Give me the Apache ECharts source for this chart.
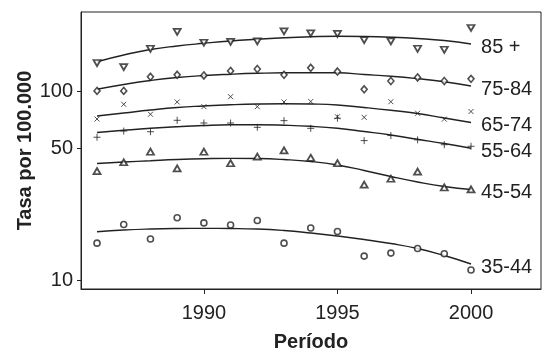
<!DOCTYPE html>
<html>
<head>
<meta charset="utf-8">
<script src="https://cdn.jsdelivr.net/npm/echarts@6/dist/echarts.min.js"></script>
<style>
  html, body { margin: 0; padding: 0; background: #fff; }
  #chart { width: 547px; height: 349px; }
</style>
</head>
<body>
<div id="chart"></div>
<script>
// years of the observation period
const years = [1986, 1987, 1988, 1989, 1990, 1991, 1992, 1993, 1994, 1995, 1996, 1997, 1998, 1999, 2000];
const groups = ["85 +", "75-84", "65-74", "55-64", "45-54", "35-44"];

// observed rates per 100.000 (points)
const obs85 = [142, 135, 169, 208, 182, 184, 185, 209, 204, 203, 188, 185, 169, 167, 218];
const obs75 = [101, 101, 120, 123, 122, 129, 132, 123, 134, 128, 103, 114, 119, 114, 117];
const obs65 = [71.6, 85.7, 75.9, 88.2, 83.3, 94.1, 83.3, 88.2, 88.7, 73.6, 73.1, 88.5, 76.8, 71.5, 78.5];
const obs55 = [57.3, 61.8, 61.3, 70.5, 68.2, 68.2, 64.7, 70.2, 63.9, 72.3, 55.0, 58.5, 55.5, 52.3, 51.3];
const obs45 = [37.9, 42.2, 48.0, 39.2, 48.0, 41.7, 45.2, 48.8, 44.6, 41.7, 32.1, 34.5, 37.6, 31.0, 30.3];
const obs35 = [15.7, 19.7, 16.5, 21.4, 20.1, 19.6, 20.7, 15.7, 18.9, 18.1, 13.4, 13.9, 14.7, 13.8, 11.3];

// fitted curves
const fit85 = [144.3, 156.6, 167.5, 174.9, 180.7, 185.9, 189.8, 193.3, 195.7, 196.9, 196.4, 194.7, 191.6, 187.0, 179.2];
const fit75 = [103.0, 109.2, 114.7, 119.0, 121.9, 123.8, 125.2, 126.0, 126.1, 126.0, 123.4, 120.7, 117.2, 113.0, 107.2];
const fit65 = [74.3, 77.05, 79.95, 82.44, 83.97, 85.2, 86.04, 86.36, 86.04, 85.0, 82.44, 79.66, 76.6, 72.5, 68.6];
const fit55 = [60.7, 62.37, 63.92, 65.18, 66.15, 66.72, 66.8, 66.4, 65.5, 63.92, 61.45, 58.88, 55.87, 53.06, 50.05];
const fit45 = [41.56, 42.33, 43.0, 43.63, 44.06, 44.28, 44.17, 43.63, 42.59, 40.8, 38.16, 35.45, 33.16, 31.38, 30.24];
const fit35 = [18.05, 18.43, 18.66, 18.77, 18.8, 18.77, 18.66, 18.32, 17.77, 17.13, 16.41, 15.62, 14.70, 13.49, 12.16];

const xTicks = [1990, 1995, 2000];
const yTicks = [10, 50, 100];

const ink = "#222";
const font = "'Liberation Sans', Arial, Helvetica, sans-serif";

const observed = [obs85, obs75, obs65, obs55, obs45, obs35];
const fitted = [fit85, fit75, fit65, fit55, fit45, fit35];

const markers = [
  { symbol: "triangle", rotate: 180, size: [7, 6], bw: 1.8 },
  { symbol: "diamond", rotate: 0, size: [6, 7], bw: 1.6 },
  { symbol: "path://M0 0L10 10M10 0L0 10", rotate: 0, size: 5, bw: 1 },
  { symbol: "path://M5 0L5 10M0 5L10 5", rotate: 0, size: 7, bw: 1 },
  { symbol: "triangle", rotate: 0, size: [7, 6], bw: 1.8 },
  { symbol: "circle", rotate: 0, size: 6, bw: 1.6 },
];

// y axis is drawn on log10 of the rate
const lg = (v) => Math.log10(v);
const pair = (arr) => years.map((y, i) => [y, lg(arr[i])]);

const series = [];
groups.forEach((name, k) => {
  series.push({
    name: name,
    type: "line",
    data: pair(fitted[k]),
    smooth: true,
    showSymbol: false,
    symbol: "none",
    lineStyle: { color: ink, width: 1.4 },
    endLabel: {
      show: true,
      formatter: name,
      color: ink,
      fontFamily: font,
      fontSize: 20,
      distance: 10,
      offset: [0, 3],
    },
    z: 2,
  });
  series.push({
    name: name + " obs",
    type: "scatter",
    data: pair(observed[k]),
    symbol: markers[k].symbol,
    symbolRotate: markers[k].rotate,
    symbolSize: markers[k].size,
    itemStyle: {
      color: "#fff",
      borderColor: ink,
      borderWidth: markers[k].bw,
    },
    z: 3,
  });
});

const chart = echarts.init(document.getElementById("chart"), null, { renderer: "canvas" });

chart.setOption({
  animation: false,
  backgroundColor: "#fff",
  grid: {
    left: 81,
    right: 6,
    top: 12,
    bottom: 60,
    show: true,
    borderColor: ink,
    borderWidth: 1,
    containLabel: false,
    outerBoundsMode: "none",
  },
  xAxis: {
    type: "value",
    min: 1985.4,
    max: 2002.62,
    name: "Período",
    nameLocation: "middle",
    nameGap: 43,
    nameMoveOverlap: false,
    nameTextStyle: { fontFamily: font, fontSize: 20, fontWeight: "bold", color: ink },
    axisLine: { show: true, lineStyle: { color: ink, width: 1 } },
    axisTick: { show: true, length: 5, customValues: xTicks, lineStyle: { color: ink } },
    axisLabel: {
      customValues: xTicks,
      margin: 14,
      fontFamily: font,
      fontSize: 20,
      color: ink,
      formatter: (v) => String(Math.round(v)),
    },
    splitLine: { show: false },
  },
  yAxis: {
    type: "value",
    min: lg(8.96),
    max: lg(265),
    name: "Tasa por 100.000",
    nameLocation: "middle",
    nameGap: 46,
    nameMoveOverlap: false,
    nameTextStyle: { fontFamily: font, fontSize: 20, fontWeight: "bold", color: ink },
    axisLine: { show: true, lineStyle: { color: ink, width: 1 } },
    axisTick: { show: true, length: 4, customValues: yTicks.map(lg), lineStyle: { color: ink } },
    axisLabel: {
      customValues: yTicks.map(lg),
      margin: 8,
      fontFamily: font,
      fontSize: 20,
      color: ink,
      formatter: (v) => String(Math.round(Math.pow(10, v))),
    },
    splitLine: { show: false },
  },
  series: series,
});
</script>
</body>
</html>
